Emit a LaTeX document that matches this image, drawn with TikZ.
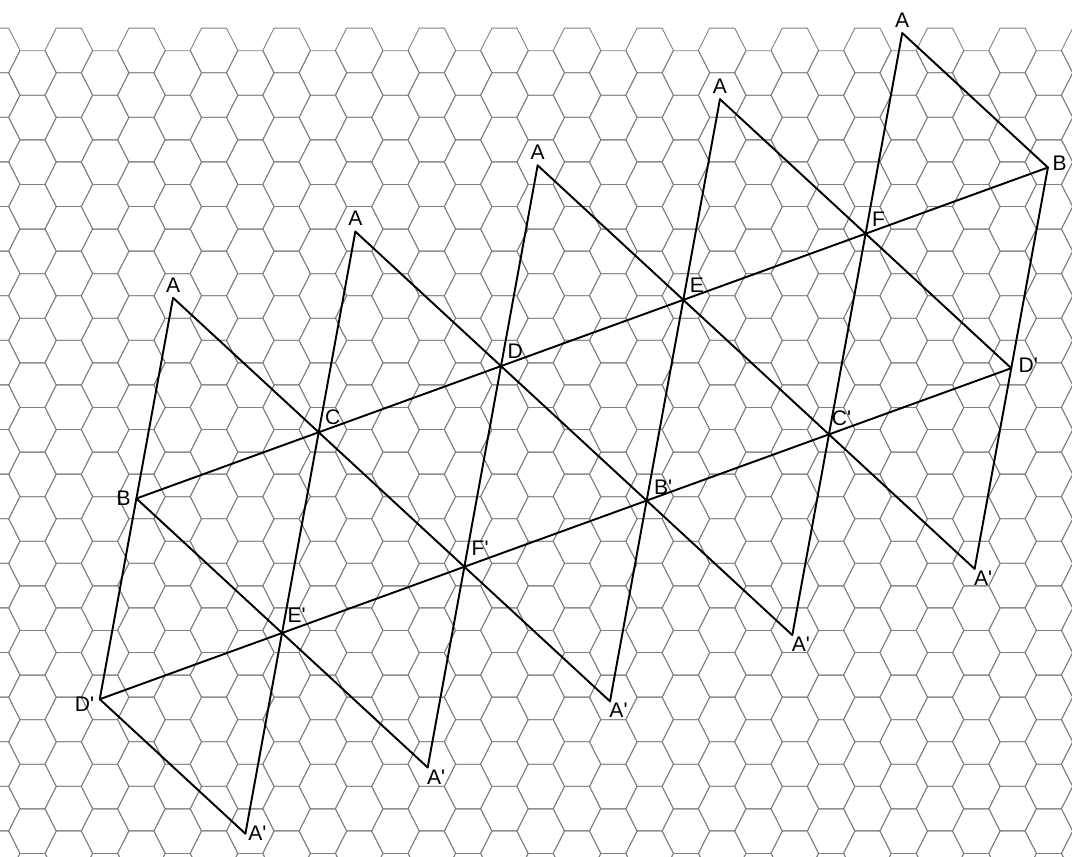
\documentclass[tikz,border=0pt]{standalone}
\usepackage{fontspec}
\setmainfont{Liberation Sans}
\usetikzlibrary{positioning}

\newcommand{\prm}{\textquotesingle}

\begin{document}
\begin{tikzpicture}[x=0.02cm, y=-0.02cm,
  hexcell/.style={draw=black!50, line width=0.5pt},
  edge/.style={black, line width=1.1pt, line cap=round, line join=round},
  lbl/.style={font=\fontsize{12}{14}\selectfont, inner sep=1pt},
]
\useasboundingbox (0,0) rectangle (1072,857);

\begin{scope}
  \clip (0,0) rectangle (1072,857);
  \foreach \k in {-1,...,29}{
    \pgfmathsetmacro{\cx}{32.5+36.3*\k}
    \pgfmathsetmacro{\cy}{mod(\k+2,2)==1 ? 50.4 : 73}
    \foreach \m in {0,...,18}
      \draw[hexcell] ({\cx-12.5},{\cy+44.6*\m-22.3}) -- ++(25,0) -- ++(11.3,22.3)
        -- ++(-11.3,22.3) -- ++(-25,0) -- ++(-11.3,-22.3) -- cycle;
  }
\end{scope}

\foreach \i in {0,...,5}
  \foreach \j in {0,...,3}
    \coordinate (v\i\j) at ({136.4+182.3*\i-36.65*(\j-1)},{498.5-66.2*\i+200.7*(\j-1)});

\draw[edge] (v01) -- (v51);
\draw[edge] (v02) -- (v52);
\draw[edge] (v00) -- (v02);
\foreach \i in {1,...,4}
  \draw[edge] (v\i0) -- (v\i3);
\draw[edge] (v51) -- (v53);
\draw[edge] (v02) -- (v13);
\draw[edge] (v01) -- (v23);
\draw[edge] (v00) -- (v33);
\draw[edge] (v10) -- (v43);
\draw[edge] (v20) -- (v53);
\draw[edge] (v30) -- (v52);
\draw[edge] (v40) -- (v51);

\foreach \i in {0,...,4}
  \node[lbl, above=2pt of v\i0] (la\i) {A};

\node[lbl, left=2pt of v01] (lb0) {B};
\node[lbl, above right=3pt and 2.5pt of v11] (lc) {C};
\node[lbl, above right=3pt and 2.5pt of v21] (ld) {D};
\node[lbl, above right=3pt and 2.5pt of v31] (le) {E};
\node[lbl, above right=3pt and 2.5pt of v41] (lf) {F};
\node[lbl, right=1.5pt of v51, yshift=2.5pt] (lb5) {B};

\node[lbl, left=2pt of v02, yshift=-3pt] (ldp0) {D\prm};
\node[lbl, above right=5pt and 2pt of v12] (lep) {E\prm};
\node[lbl, above right=5pt and 3pt of v22] (lfp) {F\prm};
\node[lbl, above right=2.5pt and 3pt of v32] (lbp) {B\prm};
\node[lbl, above right=3.5pt and 0.5pt of v42] (lcp) {C\prm};
\node[lbl, right=3pt of v52, yshift=1.5pt] (ldp5) {D\prm};

\node[lbl, right=0.5pt of v13] (lap1) {A\prm};
\foreach \i in {2,...,5}
  \node[lbl, anchor=north west, xshift=-1.5pt] (lap\i) at (v\i3) {A\prm};
\end{tikzpicture}
\end{document}
